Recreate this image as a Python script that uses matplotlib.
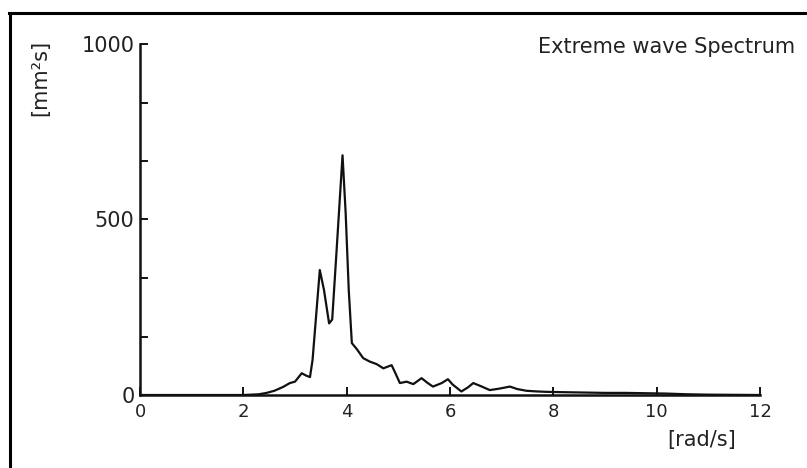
import matplotlib
matplotlib.use('Agg')
import matplotlib.pyplot as plt
from matplotlib.lines import Line2D
import numpy as np

# Spectrum samples: frequency [rad/s] and spectral density [mm^2 s]
omega = [0, 0.5, 1.0, 1.5, 2.0, 2.3, 2.45, 2.6, 2.77, 2.9, 3.0, 3.13, 3.22, 3.29,
         3.34, 3.48, 3.56, 3.66, 3.72, 3.80, 3.92, 3.98, 4.04, 4.10, 4.20, 4.32,
         4.45, 4.58, 4.71, 4.87, 4.95, 5.03, 5.16, 5.29, 5.45, 5.56, 5.67, 5.84,
         5.96, 6.05, 6.22, 6.35, 6.45, 6.6, 6.77, 6.95, 7.16, 7.3, 7.48, 7.7,
         7.87, 8.2, 8.6, 9.0, 9.4, 9.8, 10.2, 10.6, 11.0, 12.0]
spectrum = [0, 0, 0, 0, 0, 2, 6, 12, 23, 34, 38, 62, 55, 51,
            100, 356, 300, 204, 215, 400, 683, 520, 300, 148, 130, 105,
            95, 88, 76, 85, 60, 34, 38, 31, 48, 35, 24, 34,
            45, 30, 10, 22, 34, 25, 14, 18, 24, 17, 12, 10,
            9, 8, 7, 6, 6, 5, 4, 2, 1, 0]

x_ticks = [0, 2, 4, 6, 8, 10, 12]
y_ticks = list(np.linspace(0, 1000, 7))
y_ticklabels = ['0', '', '', '500', '', '', '1000']

W, H = 807, 468
fig = plt.figure(figsize=(W / 100, H / 100), dpi=100)
ax = fig.add_axes([140 / W, 1 - 395 / H, 620 / W, 351 / H])

ax.plot(omega, spectrum, color='#111111', linewidth=1.6)

ax.set_xlim(0, 12)
ax.set_ylim(0, 1000)
ax.set_xticks(x_ticks)
ax.set_xticklabels([str(t) for t in x_ticks], fontsize=13, color='#222222')
ax.set_yticks(y_ticks)
ax.set_yticklabels(y_ticklabels, fontsize=15, color='#222222')
ax.tick_params(direction='in', length=6, width=1.3, pad=4)
ax.tick_params(axis='x', pad=6)

for side in ['top', 'right']:
    ax.spines[side].set_visible(False)
for side in ['left', 'bottom']:
    ax.spines[side].set_linewidth(1.8)
    ax.spines[side].set_color('#111111')

# Labels and title placed in figure coordinates
fig.text(795 / W, 1 - 47 / H, 'Extreme wave Spectrum', ha='right', va='center',
         fontsize=15, color='#222222')
fig.text(702 / W, 1 - 440 / H, '[rad/s]', ha='center', va='center',
         fontsize=15, color='#222222')
fig.text(40 / W, 1 - 78 / H, '[mm²s]', ha='center', va='center', rotation=90,
         fontsize=15, color='#222222')

# Frame lines along the top and left edges
fig.add_artist(Line2D([9 / W, 1], [1 - 13 / H, 1 - 13 / H], color='black',
                      linewidth=2.2, transform=fig.transFigure))
fig.add_artist(Line2D([10 / W, 10 / W], [0, 1 - 13 / H], color='black',
                      linewidth=2.2, transform=fig.transFigure))

fig.savefig('out.png', dpi=100)
